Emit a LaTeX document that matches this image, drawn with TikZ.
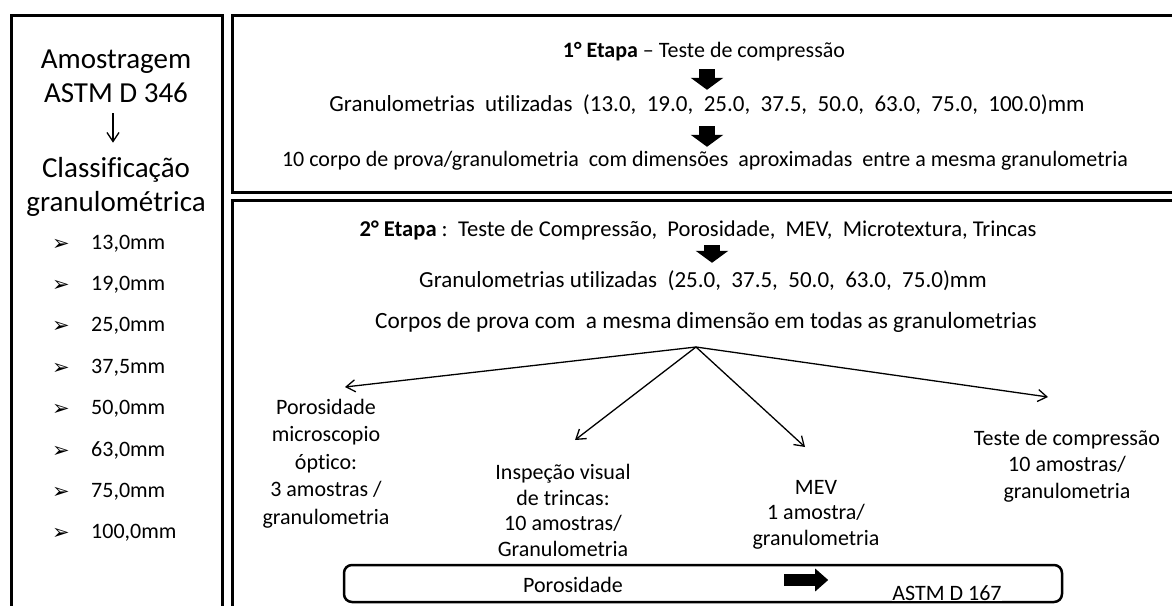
\documentclass[tikz,border=0pt]{standalone}
\usepackage{fontspec}
\setmainfont[Ligatures=NoCommon]{Carlito}
\newfontfamily\dingfont{DejaVu Sans}
\usetikzlibrary{arrows.meta}
\tikzset{
  panel/.style={line width=3pt},
  txt/.style={font=\fontsize{22}{26.5}\selectfont, inner sep=0pt, anchor=base},
  txtline/.style={txt, text height=16pt, text depth=5pt},
  blocktxt/.style={txt, align=center},
  bigtxt/.style={font=\fontsize{29}{34}\selectfont, inner sep=0pt, anchor=base, align=center},
  thinarr/.style={line width=1.3pt, -{Straight Barb[length=9pt,width=12pt]}},
  blockdown/.style={line width=16pt, -{Triangle[length=12pt,width=32pt]}},
  blockright/.style={line width=12pt, -{Triangle[length=13pt,width=22pt]}},
}
\begin{document}
\begin{tikzpicture}[x=1pt,y=-1pt]
\useasboundingbox (0,0) rectangle (1172,605);
\clip (0,0) rectangle (1172,605);
% Panels
\draw[panel] (11,15) rectangle (222,640);
\draw[panel] (232,15) rectangle (1190,192);
\draw[panel] (232,200) rectangle (1190,640);

% Left panel: sampling and sizes
\begin{scope}
\node[bigtxt] (amo) at (116,102) {Amostragem\\ASTM D 346};
\node[bigtxt] (cls) at (116,211) {Classificação\\granulométrica};
\coordinate (ax0) at (113,0);
\draw[thinarr, shorten <=11pt, shorten >=14pt] (amo.south -| ax0) -- (cls.north -| ax0);
\foreach \v [count=\i from 0] in {{13,0},{19,0},{25,0},{37,5},{50,0},{63,0},{75,0},{100,0}} {
  \node[font=\dingfont\fontsize{21}{21}\selectfont, inner sep=0pt, anchor=base] (bul\i) at (61,{250+41.4*\i}) {➢};
  \node[txtline, anchor=base west] (mm\i) at (91,{249+41.4*\i}) {\v mm};
}
\end{scope}

% Top panel: first stage
\begin{scope}
\node[txtline] (et1) at (704,57) {\textbf{1° Etapa} – Teste de compressão};
\node[txtline, font=\fontsize{23}{26.5}\selectfont] (gr1) at (707,111) {Granulometrias\ \ utilizadas\ \ (13.0,\ \ 19.0,\ \ 25.0,\ \ 37.5,\ \ 50.0,\ \ 63.0,\ \ 75.0,\ \ 100.0)mm};
\node[txtline] (cp1) at (705,166) {10 corpo de prova/granulometria\ \ com dimensões\ \ aproximadas\ \ entre a mesma granulometria};
\coordinate (ax1) at (707,0);
\draw[blockdown, shorten <=7pt, shorten >=5pt] (et1.south -| ax1) -- (gr1.north -| ax1);
\draw[blockdown, shorten <=10pt, shorten >=3pt] (gr1.south -| ax1) -- (cp1.north -| ax1);
\end{scope}

% Bottom panel: second stage
\begin{scope}
\node[txtline, font=\fontsize{22.6}{26.5}\selectfont] (et2) at (698,236) {\textbf{2° Etapa} :\ \ Teste de Compressão,\ \ Porosidade,\ \ MEV,\ \ Microtextura, Trincas};
\node[txtline, font=\fontsize{23}{26.5}\selectfont] (gr2) at (703,287) {Granulometrias utilizadas\ \ (25.0,\ \ 37.5,\ \ 50.0,\ \ 63.0,\ \ 75.0)mm};
\node[txtline, font=\fontsize{23.3}{26.5}\selectfont] (cp2) at (706,328) {Corpos de prova com\ \ a mesma dimensão em todas as granulometrias};
\coordinate (ax2) at (712,0);
\draw[blockdown, shorten <=4pt, shorten >=8pt] (et2.south -| ax2) -- (gr2.north -| ax2);

\node[blocktxt, font=\fontsize{22}{27.5}\selectfont] (por) at (326,524) {Porosidade\\microscopio\\óptico:\\3 amostras /\\granulometria};
\node[blocktxt, font=\fontsize{22}{25.5}\selectfont] (ins) at (563,556) {Inspeção visual\\de trincas:\\10 amostras/\\Granulometria};
\node[blocktxt, font=\fontsize{22}{25.5}\selectfont] (mev) at (816,545) {MEV\\1 amostra/\\granulometria};
\node[blocktxt] (tes) at (1067,498) {Teste de compressão\\10 amostras/\\granulometria};

\coordinate (split) at (696,347);
\coordinate (tpor) at (345,387);
\coordinate (tins) at (575,440);
\coordinate (tmev) at (805,447);
\coordinate (ttes) at (1048,397);
\foreach \dst in {tpor,tins,tmev,ttes}
  \draw[thinarr] (split) -- (\dst);

% porosity standard
\draw[line width=2.5pt, rounded corners=8pt] (344,565) rectangle (1062,602);
\node[txtline] (pbox) at (573,592) {Porosidade};
\node[txtline, text depth=0pt, fill=white, inner ysep=1pt] (astm) at (947,600) {ASTM D 167};
\coordinate (ax3) at (0,580);
\draw[blockright, shorten <=161pt, shorten >=64pt] (pbox.east |- ax3) -- (astm.west |- ax3);
\end{scope}
\end{tikzpicture}
\end{document}
